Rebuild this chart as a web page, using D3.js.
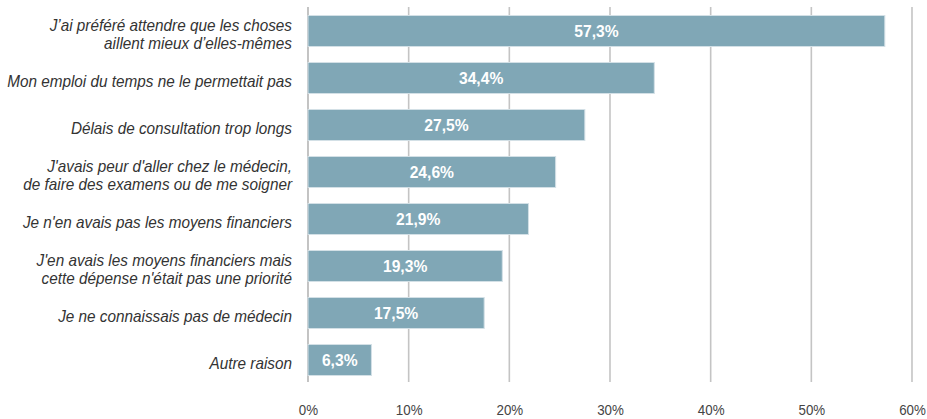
<!DOCTYPE html>
<html><head><meta charset="utf-8">
<script src="https://cdn.jsdelivr.net/npm/d3@7"></script>
<style>
html,body{margin:0;padding:0;background:#fff;}
svg text{font-family:"Liberation Sans","Arial",sans-serif;}
</style></head>
<body><svg id="c" width="927" height="419"></svg>
<script>
const categories = [
  ["J\u2019ai préféré attendre que les choses","aillent mieux d\u2019elles-mêmes"],
  ["Mon emploi du temps ne le permettait pas"],
  ["Délais de consultation trop longs"],
  ["J'avais peur d'aller chez le médecin,","de faire des examens ou de me soigner"],
  ["Je n'en avais pas les moyens financiers"],
  ["J'en avais les moyens financiers mais","cette dépense n'était pas une priorité"],
  ["Je ne connaissais pas de médecin"],
  ["Autre raison"]
];
const values = [57.3, 34.4, 27.5, 24.6, 21.9, 19.3, 17.5, 6.3];
const tickValues = [0, 10, 20, 30, 40, 50, 60];

const svg = d3.select("#c");
const x = d3.scaleLinear().domain([0, 60]).range([308, 912]);
const y = d3.scaleBand().domain(d3.range(values.length)).range([7.5, 383.5]).paddingInner(0.34).paddingOuter(0.17);

// gridlines
svg.append("g").selectAll("line").data(tickValues).join("line")
  .attr("x1", d => x(d)).attr("x2", d => x(d))
  .attr("y1", 7).attr("y2", 382)
  .attr("stroke", d => d === 0 ? "#b5b5b5" : "#c4c4c4").attr("stroke-width", 1.6);

// axis
const axis = d3.axisBottom(x).tickValues(tickValues).tickFormat(d => d + "%").tickSize(0).tickPadding(0);
const ag = svg.append("g").attr("transform", "translate(0,405)").call(axis);
ag.select(".domain").remove();
ag.selectAll("text").attr("fill", "#444").style("font-size", "14.5px")
  .style("font-family", "'Liberation Sans',Arial,sans-serif")
  .attr("transform", "scale(0.92,1)");

// bars
svg.append("g").selectAll("rect").data(values).join("rect")
  .attr("x", x(0)).attr("y", (d, i) => y(i))
  .attr("width", d => x(d) - x(0)).attr("height", y.bandwidth())
  .attr("fill", "#80a7b6").attr("stroke", "#d3e0e6").attr("stroke-width", 1);

// value labels
svg.append("g").selectAll("text").data(values).join("text")
  .attr("transform", (d, i) => `translate(${(x(0) + x(d)) / 2},${y(i) + y.bandwidth() / 2}) scale(0.92,1)`)
  .attr("dy", "0.36em").attr("text-anchor", "middle")
  .attr("fill", "#fff").style("font-weight", "bold").style("font-size", "17px")
  .text(d => d3.format(".1f")(d).replace(".", ",") + "%");

// category labels
const cl = svg.append("g").selectAll("text").data(categories).join("text")
  .attr("text-anchor", "end").attr("fill", "#333")
  .style("font-style", "italic").style("font-size", "16.5px");
cl.selectAll("tspan").data(d => d.map((t, j) => ({t, j, n: d.length}))).join("tspan")
  .attr("x", 0)
  .attr("y", d => (d.j - (d.n - 1) / 2) * 18.5)
  .attr("dy", "0.54em")
  .text(d => d.t);
// condense to match the narrow face of the reference
const ref = cl.filter((d, i) => i === 1).node().getComputedTextLength();
const sx = 285 / ref;
cl.attr("transform", (d, i) => `translate(292,${y(i) + y.bandwidth() / 2}) scale(${sx},1)`);
</script></body></html>
